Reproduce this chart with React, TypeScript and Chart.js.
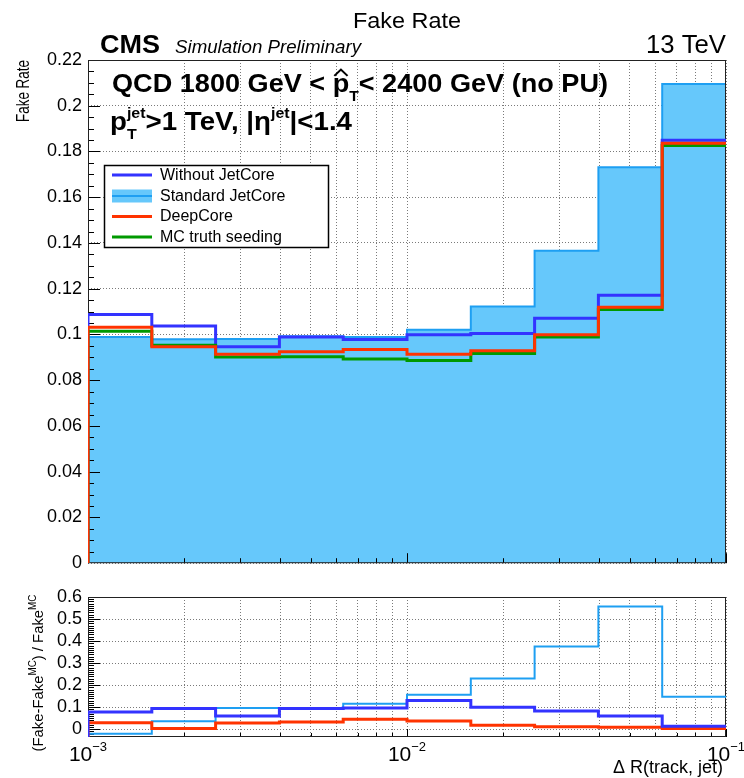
import { useEffect, useRef } from "react";
import { Chart, registerables } from "chart.js";

Chart.register(...registerables);

const FONT = '"Liberation Sans", Arial, Helvetica, sans-serif';

// ΔR(track, jet) bin edges: 10 logarithmic bins from 1e-3 to 1e-1
const binEdges = [0.001, 0.001585, 0.002512, 0.003981, 0.00631, 0.01, 0.01585, 0.02512, 0.03981, 0.0631, 0.1];

// Fake rate per ΔR bin
const fakeWithoutJetCore = [0.1087, 0.1037, 0.0946, 0.0989, 0.0978, 0.0999, 0.1004, 0.1071, 0.1172, 0.1849];
const fakeStandardJetCore = [0.0989, 0.0979, 0.098, 0.0992, 0.0989, 0.1021, 0.1122, 0.1366, 0.1731, 0.2095];
const fakeDeepCore = [0.1032, 0.0946, 0.0914, 0.0924, 0.0934, 0.0914, 0.0929, 0.0999, 0.1119, 0.1836];
const fakeMCTruth = [0.1014, 0.0953, 0.0901, 0.0903, 0.0893, 0.0886, 0.0917, 0.0989, 0.1109, 0.1826];

// (Fake - Fake^MC) / Fake^MC per ΔR bin
const ratioWithoutJetCore = [0.078, 0.094, 0.06, 0.094, 0.097, 0.131, 0.1, 0.083, 0.06, 0.014];
const ratioStandardJetCore = [-0.02, 0.036, 0.097, 0.094, 0.116, 0.157, 0.23, 0.376, 0.557, 0.148];
const ratioDeepCore = [0.03, 0.003, 0.029, 0.033, 0.045, 0.038, 0.018, 0.012, 0.009, 0.004];

// Axis ticks
const fakeRateTicks = [0, 0.02, 0.04, 0.06, 0.08, 0.1, 0.12, 0.14, 0.16, 0.18, 0.2, 0.22];
const ratioTicks = [0, 0.1, 0.2, 0.3, 0.4, 0.5, 0.6];
const deltaRGrid = [
  0.001, 0.002, 0.003, 0.004, 0.005, 0.006, 0.007, 0.008, 0.009,
  0.01, 0.02, 0.03, 0.04, 0.05, 0.06, 0.07, 0.08, 0.09, 0.1,
];
const deltaRDecades = [0.001, 0.01, 0.1];
const deltaRExponents = ["\u22123", "\u22122", "\u22121"];

const FAKE_MIN = 0;
const FAKE_MAX = 0.22;
const RATIO_MIN = -0.035;
const RATIO_MAX = 0.6;

const BLUE = "#3333ff";
const RED = "#ff3300";
const GREEN = "#009900";
const LIGHT_LINE = "#1e9ff2";
const LIGHT_FILL = "#66c8fb";
const GRID_COLOR = "#7a7a7a";

// Histogram outline: up from the base at the first edge, then across each bin
function histOutline(values: number[], base: number) {
  const pts: { x: number; y: number }[] = [{ x: binEdges[0], y: base }];
  values.forEach((v, i) => {
    pts.push({ x: binEdges[i], y: v });
    pts.push({ x: binEdges[i + 1], y: v });
  });
  return pts;
}

const fmtTick = (v: any) => String(Number(Number(v).toFixed(3)));

type Seg = {
  t: string;
  size: number;
  bold?: boolean;
  italic?: boolean;
  dy?: number;
  stack?: boolean;
  hat?: boolean;
};

function segFont(s: Seg) {
  return `${s.italic ? "italic " : ""}${s.bold ? "bold " : ""}${s.size}px ${FONT}`;
}

// Draws a run of text pieces (with sub/superscripts) on one baseline
function drawRich(
  ctx: CanvasRenderingContext2D,
  segs: Seg[],
  x: number,
  y: number,
  align: "left" | "right" | "center" = "left",
  fit?: number,
  color = "#000"
) {
  ctx.save();
  let cursor = 0;
  let prevStart = 0;
  const placed = segs.map((s) => {
    ctx.font = segFont(s);
    const w = ctx.measureText(s.t).width;
    const start = s.stack ? prevStart : cursor;
    cursor = Math.max(cursor, start + w);
    prevStart = start;
    return { s, start, w };
  });
  const total = cursor;
  const sx = fit ? fit / total : 1;
  const width = total * sx;
  const x0 = align === "left" ? x : align === "right" ? x - width : x - width / 2;
  ctx.translate(x0, y);
  ctx.scale(sx, 1);
  ctx.fillStyle = color;
  ctx.strokeStyle = color;
  ctx.textAlign = "left";
  ctx.textBaseline = "alphabetic";
  for (const p of placed) {
    ctx.font = segFont(p.s);
    ctx.fillText(p.s.t, p.start, p.s.dy || 0);
    if (p.s.hat) {
      const sz = p.s.size;
      ctx.lineWidth = 2;
      ctx.beginPath();
      ctx.moveTo(p.start + p.w * 0.1, -sz * 0.62);
      ctx.lineTo(p.start + p.w * 0.5, -sz * 0.86);
      ctx.lineTo(p.start + p.w * 0.9, -sz * 0.62);
      ctx.stroke();
    }
  }
  ctx.restore();
}

type FrameOpts = {
  yFrom: number;
  yTo: number;
  yStep: number;
  perMajor: number;
  yMajorLen: number;
  yMinorLen: number;
  xMajorLen: number;
  xMinorLen: number;
};

// Frame with inward tick marks on the left and bottom axes
function drawFrame(chart: any, o: FrameOpts) {
  const { ctx, chartArea: a, scales } = chart;
  ctx.save();
  ctx.strokeStyle = "#000";
  ctx.lineWidth = 1;
  ctx.beginPath();
  for (let i = o.yFrom; i <= o.yTo; i++) {
    const v = i * o.yStep;
    const py = Math.round(scales.y.getPixelForValue(v)) + 0.5;
    if (py < a.top || py > a.bottom) continue;
    const len = i % o.perMajor === 0 ? o.yMajorLen : o.yMinorLen;
    ctx.moveTo(a.left, py);
    ctx.lineTo(a.left + len, py);
  }
  for (const v of deltaRGrid) {
    const px = Math.round(scales.x.getPixelForValue(v)) + 0.5;
    const len = deltaRDecades.includes(v) ? o.xMajorLen : o.xMinorLen;
    ctx.moveTo(px, a.bottom);
    ctx.lineTo(px, a.bottom - len);
  }
  ctx.stroke();
  ctx.strokeStyle = "#222";
  ctx.strokeRect(a.left + 0.5, a.top + 0.5, a.right - a.left - 1, a.bottom - a.top - 1);
  ctx.restore();
}

const legendOrder = ["Without JetCore", "Standard JetCore", "DeepCore", "MC truth seeding"];

const mainDecor = {
  id: "mainDecor",
  afterDatasetDraw(chart: any, args: any) {
    if (args.index !== 0) return;
    drawFrame(chart, {
      yFrom: 0,
      yTo: 44,
      yStep: 0.005,
      perMajor: 4,
      yMajorLen: 12,
      yMinorLen: 6,
      xMajorLen: 10,
      xMinorLen: 5,
    });
  },
  afterDraw(chart: any) {
    const ctx: CanvasRenderingContext2D = chart.ctx;

    drawRich(ctx, [{ t: "Fake Rate", size: 22 }], 407, 28, "center", 108);
    drawRich(ctx, [{ t: "CMS", size: 25, bold: true }], 100, 53, "left", 60);
    drawRich(ctx, [{ t: "Simulation Preliminary", size: 18, italic: true }], 175, 53, "left", 186);
    drawRich(ctx, [{ t: "13 TeV", size: 26 }], 726, 53, "right", 80);

    drawRich(
      ctx,
      [
        { t: "QCD 1800 GeV < ", size: 26, bold: true },
        { t: "p", size: 26, bold: true, hat: true },
        { t: "T", size: 15, bold: true, dy: 9 },
        { t: "< 2400 GeV (no PU)", size: 26, bold: true },
      ],
      112,
      92,
      "left",
      496
    );
    drawRich(
      ctx,
      [
        { t: "p", size: 26, bold: true },
        { t: "jet", size: 15, bold: true, dy: -12 },
        { t: "T", size: 15, bold: true, dy: 9, stack: true },
        { t: ">1 TeV, |\u03b7", size: 26, bold: true },
        { t: "jet", size: 15, bold: true, dy: -12 },
        { t: "|<1.4", size: 26, bold: true },
      ],
      110,
      130,
      "left",
      242
    );

    // y-axis title
    ctx.save();
    ctx.translate(29, 60);
    ctx.rotate(-Math.PI / 2);
    drawRich(ctx, [{ t: "Fake Rate", size: 18 }], 0, 0, "right", 62);
    ctx.restore();

    // legend
    const box = { x: 104, y: 165, w: 224, h: 82 };
    ctx.save();
    ctx.fillStyle = "#fff";
    ctx.fillRect(box.x, box.y, box.w, box.h);
    ctx.strokeStyle = "#000";
    ctx.lineWidth = 1.5;
    ctx.strokeRect(box.x + 0.5, box.y + 0.5, box.w, box.h);
    const rows = [175, 196, 216.5, 237];
    legendOrder.forEach((label, i) => {
      const ds = chart.data.datasets.find((d: any) => d.label === label);
      const cy = rows[i];
      if (ds.fill === "origin") {
        ctx.fillStyle = ds.backgroundColor;
        ctx.fillRect(112, cy - 6.5, 40, 13);
      }
      ctx.strokeStyle = ds.borderColor;
      ctx.lineWidth = ds.borderWidth;
      ctx.beginPath();
      ctx.moveTo(112, cy);
      ctx.lineTo(152, cy);
      ctx.stroke();
      ctx.fillStyle = "#000";
      ctx.font = `16px ${FONT}`;
      ctx.textBaseline = "middle";
      ctx.textAlign = "left";
      ctx.fillText(label, 160, cy + 0.5);
    });
    ctx.restore();
  },
};

const ratioDecor = {
  id: "ratioDecor",
  beforeDatasetsDraw(chart: any) {
    drawFrame(chart, {
      yFrom: -3,
      yTo: 60,
      yStep: 0.01,
      perMajor: 10,
      yMajorLen: 12,
      yMinorLen: 6,
      xMajorLen: 8,
      xMinorLen: 4,
    });
  },
  afterDraw(chart: any) {
    const ctx: CanvasRenderingContext2D = chart.ctx;
    const xs = chart.scales.x;
    deltaRDecades.forEach((v, i) => {
      const px = xs.getPixelForValue(v);
      drawRich(
        ctx,
        [
          { t: "10", size: 21 },
          { t: deltaRExponents[i], size: 13, dy: -10 },
        ],
        px,
        181,
        "center"
      );
    });
    drawRich(ctx, [{ t: "\u0394 R(track, jet)", size: 18 }], 723, 193, "right");

    ctx.save();
    ctx.translate(43, 93);
    ctx.rotate(-Math.PI / 2);
    drawRich(
      ctx,
      [
        { t: "(Fake-Fake", size: 15 },
        { t: "MC", size: 10, dy: -7 },
        { t: ") / Fake", size: 15 },
        { t: "MC", size: 10, dy: -7 },
      ],
      0,
      0,
      "center",
      157
    );
    ctx.restore();
  },
};

function baseOptions(padTop: number, xHeight: number, yMin: number, yMax: number, yTicks: number[]) {
  return {
    responsive: false,
    animation: false,
    devicePixelRatio: 1,
    events: [],
    layout: { padding: { top: padTop, right: 18, left: 0, bottom: 0 } },
    elements: {
      point: { radius: 0, hoverRadius: 0 },
      line: { tension: 0, borderJoinStyle: "miter", borderCapStyle: "butt" },
    },
    plugins: { legend: { display: false }, tooltip: { enabled: false }, title: { display: false } },
    scales: {
      x: {
        type: "logarithmic",
        min: 0.001,
        max: 0.1,
        afterBuildTicks: (s: any) => {
          s.ticks = deltaRGrid.map((v) => ({ value: v }));
        },
        afterFit: (s: any) => {
          s.height = xHeight;
        },
        ticks: { display: false, autoSkip: false },
        grid: { color: GRID_COLOR, lineWidth: 1, drawTicks: false },
        border: { display: false, dash: [1, 2] },
      },
      y: {
        type: "linear",
        min: yMin,
        max: yMax,
        afterBuildTicks: (s: any) => {
          s.ticks = yTicks.map((v) => ({ value: v }));
        },
        afterFit: (s: any) => {
          s.width = 88;
        },
        ticks: {
          color: "#000",
          font: { family: FONT, size: 18 },
          padding: 6,
          autoSkip: false,
          callback: fmtTick,
        },
        grid: { color: GRID_COLOR, lineWidth: 1, drawTicks: false },
        border: { display: false, dash: [1, 2] },
      },
    },
  };
}

export default function App() {
  const mainRef = useRef<HTMLCanvasElement>(null);
  const ratioRef = useRef<HTMLCanvasElement>(null);

  useEffect(() => {
    const main = new Chart(mainRef.current as HTMLCanvasElement, {
      type: "line",
      data: {
        datasets: [
          {
            label: "Standard JetCore",
            data: histOutline(fakeStandardJetCore, FAKE_MIN),
            borderColor: LIGHT_LINE,
            backgroundColor: LIGHT_FILL,
            borderWidth: 2,
            fill: "origin",
            order: 4,
          },
          {
            label: "Without JetCore",
            data: histOutline(fakeWithoutJetCore, FAKE_MIN),
            borderColor: BLUE,
            borderWidth: 3,
            fill: false,
            order: 3,
          },
          {
            label: "MC truth seeding",
            data: histOutline(fakeMCTruth, FAKE_MIN),
            borderColor: GREEN,
            borderWidth: 3,
            fill: false,
            order: 2,
          },
          {
            label: "DeepCore",
            data: histOutline(fakeDeepCore, FAKE_MIN),
            borderColor: RED,
            borderWidth: 3,
            fill: false,
            order: 1,
          },
        ],
      },
      options: baseOptions(60, 11, FAKE_MIN, FAKE_MAX, fakeRateTicks) as any,
      plugins: [mainDecor],
    } as any);

    const ratio = new Chart(ratioRef.current as HTMLCanvasElement, {
      type: "line",
      data: {
        datasets: [
          {
            label: "Standard JetCore",
            data: histOutline(ratioStandardJetCore, RATIO_MIN),
            borderColor: LIGHT_LINE,
            borderWidth: 2,
            fill: false,
            order: 3,
          },
          {
            label: "DeepCore",
            data: histOutline(ratioDeepCore, RATIO_MIN),
            borderColor: RED,
            borderWidth: 3,
            fill: false,
            order: 2,
          },
          {
            label: "Without JetCore",
            data: histOutline(ratioWithoutJetCore, RATIO_MIN),
            borderColor: BLUE,
            borderWidth: 3,
            fill: false,
            order: 1,
          },
        ],
      },
      options: baseOptions(17, 41, RATIO_MIN, RATIO_MAX, ratioTicks) as any,
      plugins: [ratioDecor],
    } as any);

    return () => {
      main.destroy();
      ratio.destroy();
    };
  }, []);

  return (
    <div style={{ position: "fixed", left: 0, top: 0, width: 744, height: 778, background: "#fff" }}>
      <canvas
        ref={mainRef}
        width={744}
        height={580}
        style={{ position: "absolute", left: 0, top: 0, width: 744, height: 580 }}
      />
      <canvas
        ref={ratioRef}
        width={744}
        height={198}
        style={{ position: "absolute", left: 0, top: 580, width: 744, height: 198 }}
      />
    </div>
  );
}
